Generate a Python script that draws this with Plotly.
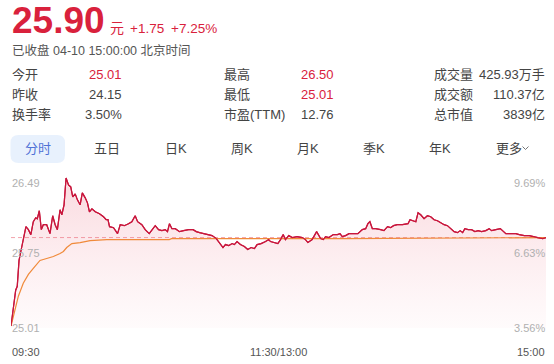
import plotly.graph_objects as go

# ---------------- data ----------------
prev_close = 24.15
last_price = 25.90
change_txt = "+1.75"
change_pct_txt = "+7.25%"
status_txt = "已收盘 04-10 15:00:00 北京时间"

info_labels = [["今开", "昨收", "换手率"], ["最高", "最低", "市盈(TTM)"], ["成交量", "成交额", "总市值"]]
info_values = [["25.01", "24.15", "3.50%"], ["26.50", "25.01", "12.76"], ["425.93万手", "110.37亿", "3839亿"]]
info_red = [[True, False, False], [True, True, False], [False, False, False]]

tabs = ["分时", "五日", "日K", "周K", "月K", "季K", "年K", "更多"]

# minutes since 09:30 (lunch break collapsed), price
t_price = [0, 1.3, 2.1, 2.8, 3.6, 4.4, 5.5, 6.7, 7.8, 8.9,
           10.0, 11.1, 11.8, 12.7, 13.6, 14.5, 16.0, 17.5, 18.7, 19.8,
           20.8, 22.0, 22.8, 23.8, 24.7, 25.8, 26.8, 27.7, 28.8, 29.8,
           31.0, 32.0, 33.3, 34.3, 35.2, 36.3, 37.8, 39.7, 41.5, 42.7,
           43.5, 44.2, 46.0, 47.8, 49.0, 50.8, 52.7, 54.2, 55.7, 56.8,
           58.7, 60.2, 62.0, 63.2, 64.7, 66.2, 67.7, 69.2, 70.2, 71.1,
           72.2, 73.7, 75.6, 77.4, 79.7, 81.7, 83.1, 84.6, 86.4, 88.2,
           90.2, 92.1, 93.6, 95.1, 96.2, 97.7, 99.2, 100.2, 101.4, 102.9,
           104.7, 106.2, 107.7, 109.2, 110.4, 112.2, 114.2, 115.6, 116.4, 117.9,
           119.7, 120.9, 122.1, 123.1, 124.6, 126.2, 128.4, 130.7, 132.1, 133.2,
           135.1, 137.1, 138.9, 140.1, 141.1, 142.6, 144.6, 146.4, 147.6, 148.6,
           150.1, 151.6, 153.6, 155.6, 157.6, 159.1, 160.1, 161.0, 162.1, 163.6,
           165.8, 167.3, 168.9, 170.3, 171.6, 173.3, 175.6, 177.1, 178.1, 179.0,
           180.8, 181.6, 182.6, 183.8, 185.3, 186.8, 188.3, 189.8, 191.3, 192.8,
           194.3, 195.8, 197.3, 198.8, 200.3, 201.5, 202.6, 203.6, 205.1, 206.6,
           208.1, 209.6, 211.1, 213.0, 214.5, 215.6, 217.5, 219.5, 220.5, 222.0,
           224.3, 226.5, 228.0, 230.3, 232.5, 234.0, 236.3, 238.5, 240]
price = [25.01, 25.24, 25.37, 25.41, 25.67, 25.76, 25.88, 26.01, 25.98, 25.93,
         26.06, 26.10, 26.09, 26.17, 25.98, 26.03, 26.03, 25.94, 26.12, 26.03,
         25.98, 26.18, 26.13, 26.23, 26.50, 26.43, 26.41, 26.31, 26.34, 26.28,
         26.23, 26.35, 26.30, 26.25, 26.16, 26.19, 26.16, 26.14, 26.11, 26.08,
         26.08, 26.01, 26.00, 25.94, 26.03, 26.02, 26.04, 26.06, 26.12, 26.06,
         26.03, 25.98, 25.94, 25.98, 26.02, 25.98, 25.97, 25.98, 25.96, 26.04,
         25.99, 25.99, 25.96, 25.97, 25.98, 25.98, 25.96, 25.95, 25.94, 25.93,
         25.92, 25.89, 25.84, 25.80, 25.83, 25.82, 25.84, 25.83, 25.86, 25.83,
         25.81, 25.78, 25.80, 25.79, 25.83, 25.84, 25.86, 25.88, 25.86, 25.85,
         25.84, 25.88, 25.93, 25.88, 25.92, 25.90, 25.91, 25.90, 25.88, 25.85,
         25.88, 25.96, 25.89, 25.88, 25.91, 25.90, 25.93, 25.93, 25.94, 25.91,
         25.92, 25.94, 25.94, 25.94, 25.98, 25.99, 26.04, 26.06, 25.99, 25.99,
         25.98, 25.97, 26.01, 26.00, 26.02, 26.03, 26.03, 26.04, 26.04, 26.08,
         26.07, 26.06, 26.15, 26.13, 26.09, 26.12, 26.11, 26.08, 26.07, 26.05,
         26.03, 26.02, 25.99, 25.96, 25.95, 25.97, 25.95, 25.99, 25.98, 25.98,
         25.96, 25.97, 25.96, 25.97, 25.99, 25.97, 25.98, 25.99, 25.97, 25.94,
         25.94, 25.94, 25.93, 25.92, 25.92, 25.91, 25.90, 25.89, 25.90]

t_avg = [0, 1.8, 3.3, 5.5, 7.8, 10.0, 13.0, 16.0, 19.0, 22.0, 23.5, 25.0, 27.3,
         31.0, 35.5, 43.0, 71.0, 72.0, 150, 240]
avg_price = [25.01, 25.17, 25.31, 25.44, 25.53, 25.59, 25.67, 25.69, 25.71, 25.74,
             25.76, 25.80, 25.84, 25.85, 25.87, 25.88, 25.88, 25.89, 25.89, 25.90]

y_tick_vals = [26.49, 25.75, 25.01]
y_tick_left = ["26.49", "25.75", "25.01"]
y_tick_right = ["9.69%", "6.63%", "3.56%"]
x_tick_vals = [0, 120, 240]
x_tick_text = ["09:30", "11:30/13:00", "15:00"]

assert len(t_price) == len(price)
assert len(t_avg) == len(avg_price)

# ---------------- layout helpers ----------------
W, H = 554, 364
L, R, T, B = 11, 8, 176, 36
PW, PH = W - L - R, H - T - B


def px(x):
    return (x - L) / PW


def py(y):
    return (H - B - y) / PH


RED = "#d9213c"
LINE_RED = "#c8163c"
ORANGE = "#f08a3a"
DARK = "#444444"
FONT = "Liberation Sans, Arial, Noto Sans CJK SC, sans-serif"

fig = go.Figure()

fig.add_trace(go.Scatter(
    x=t_price, y=price, mode="lines",
    line=dict(color=LINE_RED, width=1.2),
    fill="tozeroy",
    fillgradient=dict(type="vertical",
                      colorscale=[[0, "rgba(240,120,140,0.03)"], [1, "rgba(230,70,95,0.20)"]],
                      start=24.99, stop=26.50),
    hoverinfo="skip", showlegend=False))

fig.add_trace(go.Scatter(
    x=t_avg, y=avg_price, mode="lines",
    line=dict(color=ORANGE, width=1.2),
    hoverinfo="skip", showlegend=False))

# re-draw price line on top
fig.add_trace(go.Scatter(
    x=t_price, y=price, mode="lines",
    line=dict(color=LINE_RED, width=1.2),
    hoverinfo="skip", showlegend=False))

shapes = []
shapes.append(dict(type="line", xref="x", yref="y", x0=0, x1=240, y0=last_price, y1=last_price,
                   line=dict(color="#f2a2ab", width=1, dash="4px,3px"), layer="below"))

# tab pill with rounded corners
x0, x1, y0, y1, r = 10.5, 65, 135, 163, 8
pts = [
    f"M{px(x0 + r)},{py(y0)}",
    f"L{px(x1 - r)},{py(y0)}",
    f"Q{px(x1)},{py(y0)} {px(x1)},{py(y0 + r)}",
    f"L{px(x1)},{py(y1 - r)}",
    f"Q{px(x1)},{py(y1)} {px(x1 - r)},{py(y1)}",
    f"L{px(x0 + r)},{py(y1)}",
    f"Q{px(x0)},{py(y1)} {px(x0)},{py(y1 - r)}",
    f"L{px(x0)},{py(y0 + r)}",
    f"Q{px(x0)},{py(y0)} {px(x0 + r)},{py(y0)}",
    "Z",
]
shapes.append(dict(type="path", xref="paper", yref="paper", path=" ".join(pts),
                   fillcolor="#e8f1fd", line=dict(width=0), layer="below"))
# chevron of 更多
shapes.append(dict(type="path", xref="paper", yref="paper",
                   path=f"M{px(522.5)},{py(146.5)} L{px(525.5)},{py(149.5)} L{px(528.5)},{py(146.5)}",
                   line=dict(color="#777777", width=1)))

ann = []


def text(x, y, s, size, color, xanchor="left", bold=False):
    ann.append(dict(xref="paper", yref="paper", x=px(x), y=py(y), text=f"<b>{s}</b>" if bold else s,
                    showarrow=False, xanchor=xanchor, yanchor="middle", borderpad=0,
                    font=dict(size=size, color=color, family=FONT)))


# header
text(11, 21, f"{last_price:.2f}", 37, RED, bold=True)
text(109, 27.5, "元", 14, RED)
text(129, 28.5, change_txt, 13.5, RED)
text(170, 28.5, change_pct_txt, 13.5, RED)
text(11, 50.5, status_txt, 12.5, "#555555")

# info table
label_x = [10.5, 222.5, 432.5]
value_right = [123, 335, 546]
row_y = [74, 94, 114]
for c in range(3):
    for r_ in range(3):
        text(label_x[c], row_y[r_], info_labels[c][r_], 13, DARK)
        text(value_right[c], row_y[r_], info_values[c][r_], 13,
             RED if info_red[c][r_] else DARK, xanchor="right")

# tabs
tab_cx = [37.6, 107, 176, 242, 308, 374, 440, 508.5]
for i, s in enumerate(tabs):
    text(tab_cx[i], 148, s, 13, "#4f72d6" if i == 0 else DARK, xanchor="center")

# y labels
yshifts = [-4.5, 0, -1.5]
for v, lt, rt, ys in zip(y_tick_vals, y_tick_left, y_tick_right, yshifts):
    ann.append(dict(xref="paper", yref="y", x=0, y=v, text=lt, showarrow=False, xanchor="left",
                    yanchor="middle", yshift=ys, borderpad=0,
                    font=dict(size=11, color="#b0b0b0", family=FONT)))
    ann.append(dict(xref="paper", yref="y", x=1, y=v, text=rt, showarrow=False, xanchor="right",
                    yanchor="middle", yshift=ys, borderpad=0,
                    font=dict(size=11, color="#b0b0b0", family=FONT)))

# x labels
for v, s, xa in zip(x_tick_vals, x_tick_text, ["left", "center", "right"]):
    ann.append(dict(xref="x", yref="paper", x=v, y=py(352), text=s, showarrow=False, xanchor=xa,
                    yanchor="middle", borderpad=0,
                    font=dict(size=11, color="#555555", family=FONT)))

fig.update_layout(
    width=W, height=H, autosize=False,
    margin=dict(l=L, r=R, t=T, b=B, pad=0),
    paper_bgcolor="white", plot_bgcolor="white",
    xaxis=dict(range=[0, 240], visible=False, fixedrange=True),
    yaxis=dict(range=[24.99, 26.52], visible=False, fixedrange=True),
    shapes=shapes, annotations=ann, showlegend=False,
    font=dict(family=FONT),
)

fig.write_html("out.html", config={"displayModeBar": False})
